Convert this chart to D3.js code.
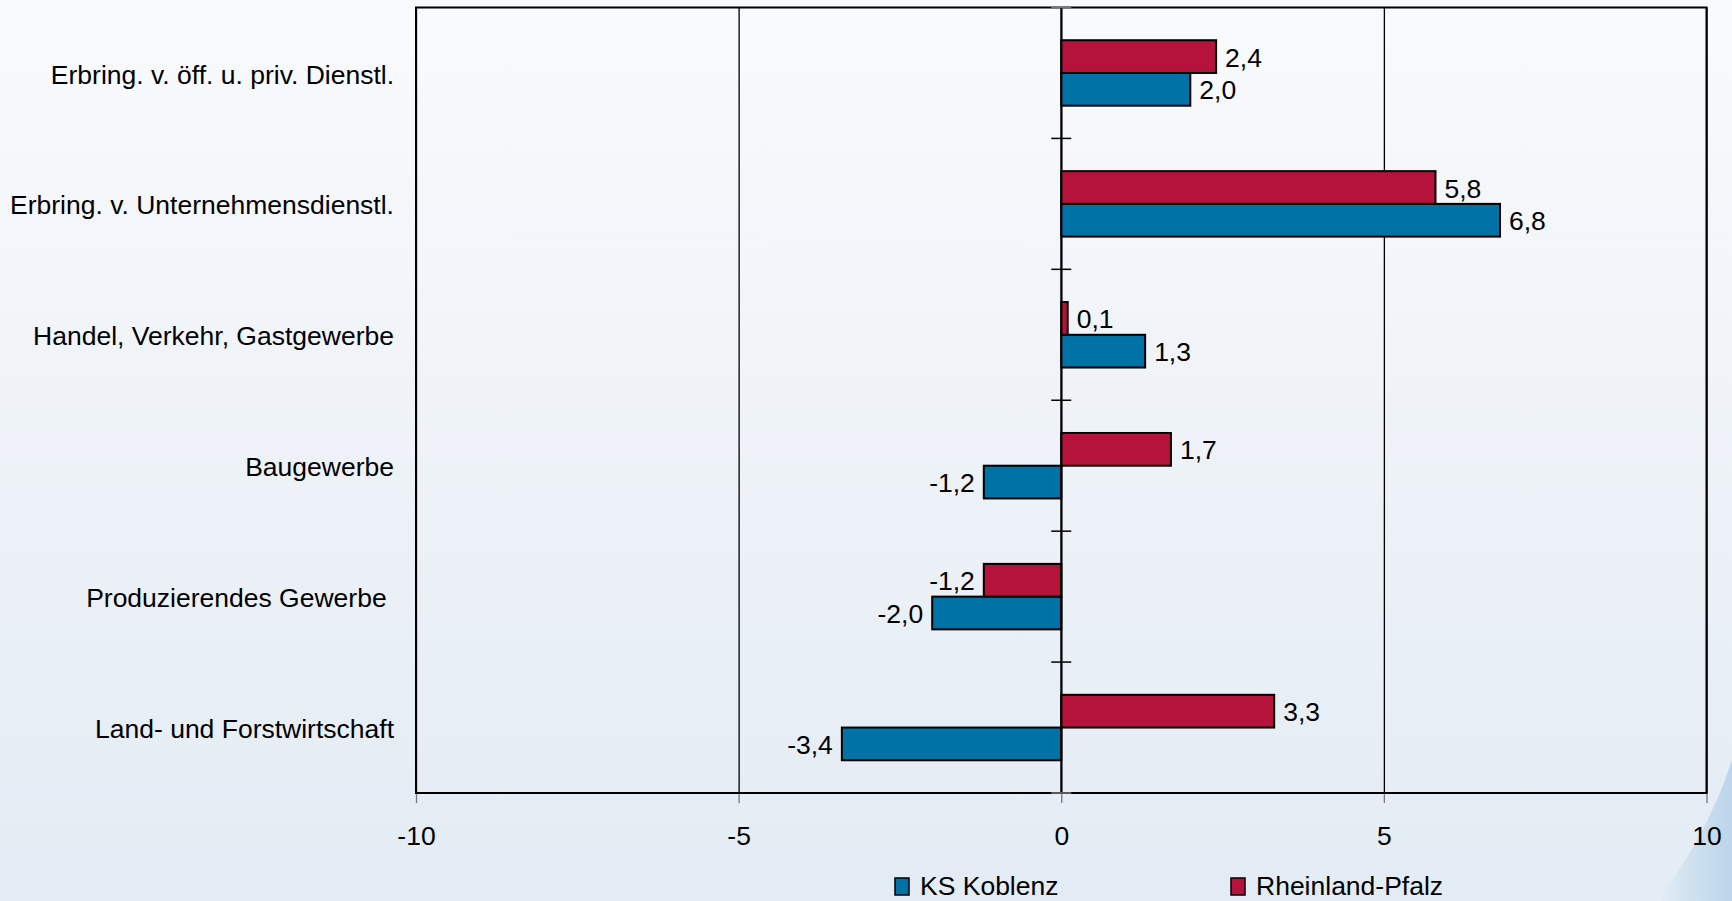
<!DOCTYPE html>
<html>
<head>
<meta charset="utf-8">
<script src="https://cdn.jsdelivr.net/npm/d3@7"></script>
<style>
  html, body { margin: 0; padding: 0; }
  body { width: 1732px; height: 901px; overflow: hidden; }
  text { font-family: "Liberation Sans", Arial, sans-serif; fill: #000; }
</style>
</head>
<body>
<div class="chart"></div>
<script>
var width = 1732;
var height = 901;

// data
var categories = [
    "Erbring. v. öff. u. priv. Dienstl.",
    "Erbring. v. Unternehmensdienstl.",
    "Handel, Verkehr, Gastgewerbe",
    "Baugewerbe",
    "Produzierendes Gewerbe ",
    "Land- und Forstwirtschaft"
];
var series_names = ["KS Koblenz", "Rheinland-Pfalz"];
var koblenz_values = [2.0, 6.8, 1.3, -1.2, -2.0, -3.4];
var rlp_values = [2.4, 5.8, 0.1, 1.7, -1.2, 3.3];
var x_ticks = [-10, -5, 0, 5, 10];
var colors = { "KS Koblenz": "#0072a6", "Rheinland-Pfalz": "#b5133c" };

var margin = { top: 7.5, bottom: 108, left: 416, right: 25.5 };
var plot_w = width - margin.left - margin.right;
var plot_h = height - margin.top - margin.bottom;
var font_size = "26.5px";

var de = d3.formatLocale({ decimal: ",", thousands: ".", grouping: [3], currency: ["", " €"], minus: "-" });
var fmt = de.format(".1f");

var svg = d3.select(".chart").append("svg")
    .attr("width", width)
    .attr("height", height);

// background
var defs = svg.append("defs");
var bg = defs.append("linearGradient").attr("id", "bg").attr("x1", 0).attr("y1", 0).attr("x2", 0).attr("y2", 1);
bg.append("stop").attr("offset", "0%").attr("stop-color", "#f9fafc");
bg.append("stop").attr("offset", "100%").attr("stop-color", "#e3ebf4");
var sw = defs.append("linearGradient").attr("id", "swoosh").attr("x1", 0).attr("y1", 0).attr("x2", 1).attr("y2", 0);
sw.append("stop").attr("offset", "0%").attr("stop-color", "#e8eff6");
sw.append("stop").attr("offset", "40%").attr("stop-color", "#d2e3f0");
sw.append("stop").attr("offset", "100%").attr("stop-color", "#bcd5ea");

svg.append("rect").attr("width", width).attr("height", height).attr("fill", "url(#bg)");
svg.append("path")
    .attr("d", "M1732,760 C1714,815 1688,862 1656,901 L1732,901 Z")
    .attr("fill", "url(#swoosh)");

var g = svg.append("g").attr("transform", "translate(" + margin.left + "," + margin.top + ")");

// scales
var x = d3.scaleLinear().domain([-10, 10]).range([0, plot_w]);
var y0 = d3.scaleBand().domain(categories).range([0, plot_h]).paddingInner(0.5).paddingOuter(0.25);
var y1 = d3.scaleBand().domain(["Rheinland-Pfalz", "KS Koblenz"]).range([0, y0.bandwidth()]);

// gridlines
g.append("g")
    .attr("class", "grid")
    .call(d3.axisBottom(x).tickValues(x_ticks).tickSize(plot_h).tickFormat(""))
    .call(s => s.select(".domain").remove())
    .selectAll("line")
    .attr("stroke", "#000")
    .attr("stroke-width", 1.3);

// x axis
var x_axis = g.append("g")
    .attr("transform", "translate(0," + plot_h + ")")
    .call(d3.axisBottom(x).tickValues(x_ticks).tickSize(10).tickPadding(23).tickFormat(de.format("d")));
x_axis.select(".domain").remove();
x_axis.selectAll("line").attr("stroke", "#777").attr("stroke-width", 1.3);
x_axis.selectAll("text").attr("font-size", font_size).attr("fill", "#000")
    .style("font-family", '"Liberation Sans", Arial, sans-serif');

// frame
g.append("rect")
    .attr("width", plot_w)
    .attr("height", plot_h)
    .attr("fill", "none")
    .attr("stroke", "#000")
    .attr("stroke-width", 2);

// bars
var rows = categories.map((c, i) => ({
    category: c,
    values: [
        { name: "KS Koblenz", value: koblenz_values[i] },
        { name: "Rheinland-Pfalz", value: rlp_values[i] }
    ]
}));

var groups = g.selectAll("g.cat")
    .data(rows)
    .enter()
    .append("g")
    .attr("class", "cat")
    .attr("transform", d => "translate(0," + y0(d.category) + ")");

groups.selectAll("rect")
    .data(d => d.values)
    .enter()
    .append("rect")
    .attr("x", d => x(Math.min(0, d.value)))
    .attr("y", d => y1(d.name))
    .attr("width", d => Math.abs(x(d.value) - x(0)))
    .attr("height", y1.bandwidth())
    .attr("fill", d => colors[d.name])
    .attr("stroke", "#000")
    .attr("stroke-width", 2);

groups.selectAll("text")
    .data(d => d.values)
    .enter()
    .append("text")
    .attr("x", d => d.value >= 0 ? x(d.value) + 9 : x(d.value) - 9)
    .attr("y", d => y1(d.name) + y1.bandwidth() / 2)
    .attr("dy", "0.38em")
    .attr("text-anchor", d => d.value >= 0 ? "start" : "end")
    .attr("font-size", font_size)
    .text(d => fmt(d.value));

// zero axis with category ticks
g.append("line")
    .attr("x1", x(0)).attr("x2", x(0))
    .attr("y1", 0).attr("y2", plot_h)
    .attr("stroke", "#000")
    .attr("stroke-width", 2);

var boundaries = d3.range(categories.length + 1).map(i => i * y0.step());
g.selectAll("line.cat_tick")
    .data(boundaries)
    .enter()
    .append("line")
    .attr("class", "cat_tick")
    .attr("x1", x(0) - 10).attr("x2", x(0) + 10)
    .attr("y1", d => d).attr("y2", d => d)
    .attr("stroke", (d, i) => i == 0 || i == categories.length ? "#777" : "#000")
    .attr("stroke-width", 1.5);

// category labels
g.selectAll("text.cat_label")
    .data(categories)
    .enter()
    .append("text")
    .attr("class", "cat_label")
    .attr("x", -22)
    .attr("y", d => y0(d) + y0.bandwidth() / 2)
    .attr("dy", "0.4em")
    .attr("text-anchor", "end")
    .attr("font-size", font_size)
    .style("white-space", "pre")
    .text(d => d);

// legend
var legend_x = [895, 1231];
var legend = svg.selectAll("g.legend")
    .data(series_names)
    .enter()
    .append("g")
    .attr("class", "legend")
    .attr("transform", (d, i) => "translate(" + legend_x[i] + ",878)");

legend.append("rect")
    .attr("width", 14)
    .attr("height", 17)
    .attr("fill", d => colors[d])
    .attr("stroke", "#000")
    .attr("stroke-width", 1.5);

legend.append("text")
    .attr("x", 25)
    .attr("y", 16.5)
    .attr("font-size", font_size)
    .text(d => d);
</script>
</body>
</html>
